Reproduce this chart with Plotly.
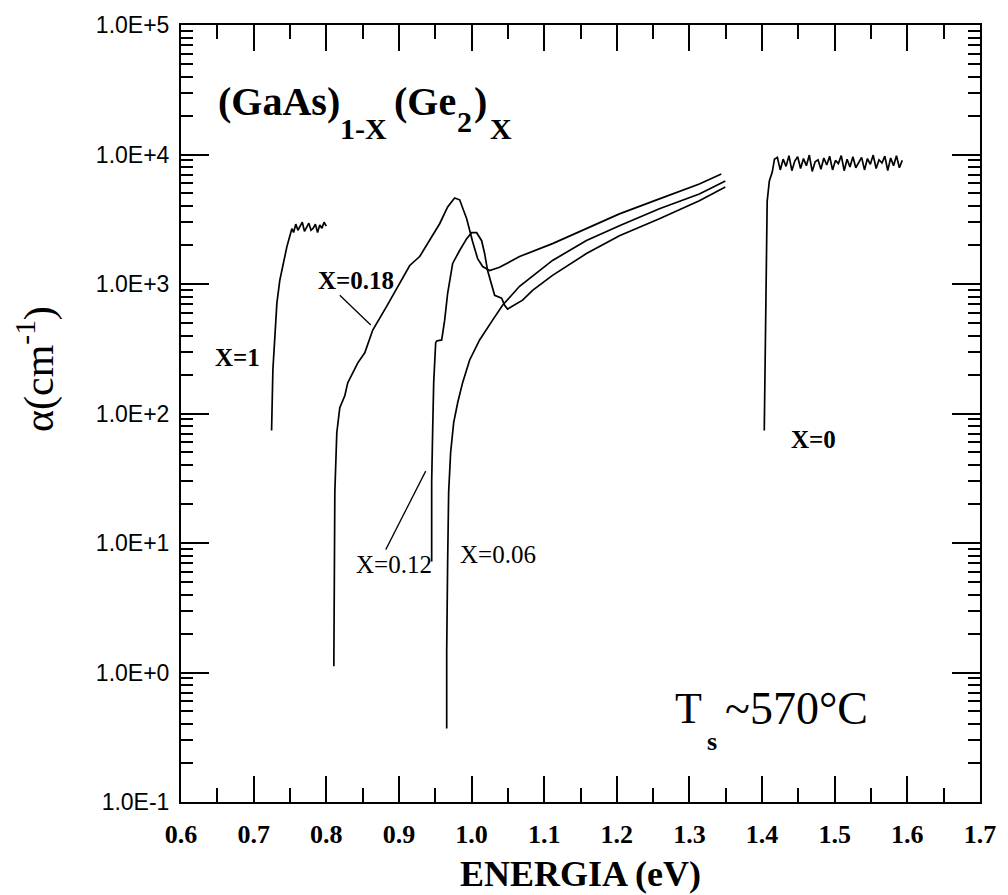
import plotly.graph_objects as go

# ---------------- data ----------------
# X = 1
e_x1 = [0.7247, 0.7265, 0.7320, 0.7360, 0.7458, 0.7526, 0.7550, 0.7580, 0.7610, 0.7640,
        0.7670, 0.7700, 0.7730, 0.7760, 0.7790, 0.7820, 0.7850, 0.7880, 0.7910, 0.7940,
        0.7970, 0.8000]
a_x1 = [74, 218, 711, 1067, 1945, 2675, 2500, 2900, 2600, 2800,
        3000, 2550, 2750, 2950, 2600, 2700, 2900, 2500, 2850, 2700,
        3000, 2800]

# X = 0.18
e_x018 = [0.8104, 0.8111, 0.8118, 0.8145, 0.8186, 0.8255, 0.8296, 0.8365, 0.8434, 0.8530,
          0.8640, 0.8833, 0.9011, 0.9149, 0.9286, 0.9424, 0.9561, 0.9671, 0.9767, 0.9836,
          0.9933, 1.0015, 1.0084, 1.0153, 1.0249, 1.0386, 1.0661, 1.1115, 1.1582, 1.2036,
          1.2586, 1.3136, 1.3439]
a_x018 = [1.12, 7.2, 24.8, 71, 111, 137, 173, 206, 246, 294,
          441, 674, 1012, 1390, 1630, 2160, 2920, 3940, 4620, 4470,
          3190, 2120, 1570, 1365, 1270, 1345, 1630, 2050, 2675, 3480,
          4540, 5920, 7060]

# X = 0.12
e_x012 = [0.9451, 0.9451, 0.9465, 0.9479, 0.9506, 0.9520, 0.9589, 0.9630, 0.9671, 0.9740,
          0.9836, 0.9933, 1.0001, 1.0070, 1.0139, 1.0180, 1.0221, 1.0276, 1.0318, 1.0414,
          1.0455, 1.0496, 1.0565, 1.0703, 1.0840, 1.0936, 1.1115, 1.1582, 1.2036, 1.2586,
          1.3136, 1.3494]
a_x012 = [7.2, 29.5, 75, 173, 351, 363, 370, 526, 848, 1442,
          1813, 2240, 2490, 2490, 2160, 1720, 1270, 960, 818, 776,
          686, 640, 674, 750, 894, 977, 1165, 1718, 2360, 3190,
          4390, 5610]

# X = 0.06
e_x006 = [0.9658, 0.9658, 0.9671, 0.9685, 0.9712, 0.9754, 0.9809, 0.9877, 0.9974, 1.0111,
          1.0290, 1.0427, 1.0661, 1.1115, 1.1582, 1.2036, 1.2586, 1.3136, 1.3494]
a_x006 = [0.37, 1.47, 7.2, 24.8, 50, 85, 121, 173, 259, 370,
          526, 686, 960, 1520, 2165, 2820, 3810, 4960, 6240]

# X = 0
e_x0 = [1.403, 1.4045, 1.406, 1.407, 1.410, 1.414, 1.417,
        1.421, 1.425, 1.429, 1.433, 1.437, 1.441, 1.445, 1.449, 1.453, 1.457,
        1.461, 1.465, 1.469, 1.473, 1.477, 1.481, 1.485, 1.489, 1.493, 1.497,
        1.501, 1.505, 1.509, 1.513, 1.517, 1.521, 1.525, 1.529, 1.533, 1.537,
        1.541, 1.545, 1.549, 1.553, 1.557, 1.561, 1.565, 1.569, 1.573, 1.577,
        1.581, 1.585, 1.589, 1.593]
a_x0 = [74, 418, 1945, 4370, 6240, 7310, 9200,
        9500, 7600, 9200, 8100, 9800, 7500, 8900, 9600, 7800, 9300,
        8200, 9900, 7400, 8800, 9100, 7700, 9400, 8300, 9700, 7600,
        9000, 8500, 9800, 7500, 9200, 8000, 9600, 7900, 8700, 9500,
        7600, 9300, 8400, 9900, 7800, 9100, 8600, 9700, 7500, 9400,
        8200, 9800, 7900, 9000]

series = [(e_x1, a_x1), (e_x018, a_x018), (e_x012, a_x012), (e_x006, a_x006), (e_x0, a_x0)]

x_ticks = [0.6, 0.7, 0.8, 0.9, 1.0, 1.1, 1.2, 1.3, 1.4, 1.5, 1.6, 1.7]
x_ticklabels = ["0.6", "0.7", "0.8", "0.9", "1.0", "1.1", "1.2", "1.3", "1.4", "1.5", "1.6", "1.7"]
y_ticks = [0.1, 1, 10, 100, 1000, 10000, 100000]
y_ticklabels = ["1.0E-1", "1.0E+0", "1.0E+1", "1.0E+2", "1.0E+3", "1.0E+4", "1.0E+5"]
y_minor = [m * d for d in [0.1, 1, 10, 100, 1000, 10000] for m in range(2, 10)]

# ---------------- figure ----------------
W, H = 1008, 895
L, R, T, B = 181, 27, 20, 93
PW, PH = W - L - R, H - T - B


def px(xp):
    return (xp - L) / PW


def py(yp):
    return (H - B - yp) / PH


SERIF = "Liberation Serif, Times New Roman, serif"
SANS = "Liberation Sans, Arial, sans-serif"

fig = go.Figure()
for ex, ay in series:
    fig.add_trace(go.Scatter(x=ex, y=ay, mode="lines",
                             line=dict(color="black", width=1.7),
                             showlegend=False, hoverinfo="skip"))

fig.update_layout(
    width=W, height=H,
    margin=dict(l=L, r=R, t=T, b=B),
    paper_bgcolor="white", plot_bgcolor="white",
    showlegend=False,
)
fig.update_xaxes(
    range=[0.6, 1.7], showgrid=False, zeroline=False,
    showline=True, linecolor="black", linewidth=2, mirror="ticks",
    ticks="inside", ticklen=26, tickwidth=2, tickcolor="black",
    tickmode="array", tickvals=x_ticks,
    ticktext=["<b>%s</b>" % t for t in x_ticklabels],
    tickfont=dict(family=SERIF, size=26, color="black"),
    ticklabelstandoff=8,
    minor=dict(ticks="inside", ticklen=14, tickwidth=2, tickcolor="black", dtick=0.05, tick0=0.6, showgrid=False),
)
fig.update_yaxes(
    type="log", range=[-1, 5], showgrid=False, zeroline=False,
    showline=True, linecolor="black", linewidth=2, mirror="ticks",
    ticks="inside", ticklen=28, tickwidth=2, tickcolor="black",
    tickmode="array", tickvals=y_ticks, ticktext=y_ticklabels,
    tickfont=dict(family=SANS, size=23, color="black"),
    ticklabelstandoff=5,
    minor=dict(ticks="inside", ticklen=12, tickwidth=2, tickcolor="black",
               tickmode="array", tickvals=y_minor, showgrid=False),
)

ann = []


def add_text(text, xp, yp, size, xanchor="left", yanchor="middle", angle=0):
    ann.append(dict(text=text, x=px(xp), y=py(yp), xref="paper", yref="paper",
                    xanchor=xanchor, yanchor=yanchor, showarrow=False, textangle=angle,
                    font=dict(family=SERIF, size=size, color="black")))


# axis titles
add_text("<b>ENERGIA (eV)</b>", 581, 874, 36, xanchor="center")
add_text("α(cm<sup>-1</sup>)", 36, 366, 42, xanchor="center", angle=-90)

# compound label built from pieces (large subscripts like the original)
add_text("<b>(GaAs)</b>", 216, 97, 40)
add_text("<b>1-X</b>", 338, 124, 30)
add_text("<b>(Ge</b>", 392, 97, 40)
add_text("<b>2</b>", 455, 117, 30)
add_text("<b>)</b>", 472, 97, 40)
add_text("<b>X</b>", 488, 124, 30)

# temperature
add_text("T", 674, 708, 44)
add_text("<b>s</b>", 706, 741, 26)
add_text("~570°C", 724, 708, 46)

# curve labels
add_text("<b>X=1</b>", 238, 355, 25, xanchor="center")
add_text("<b>X=0.18</b>", 356, 277, 25, xanchor="center")
add_text("X=0.12", 394, 563, 25, xanchor="center")
add_text("X=0.06", 498, 553, 25, xanchor="center")
add_text("<b>X=0</b>", 814, 437, 25, xanchor="center")

fig.update_layout(annotations=ann)

# leader lines
for (x0, y0, x1, y1) in [(340, 292, 371, 322), (386, 548, 426, 469)]:
    fig.add_shape(type="line", xref="paper", yref="paper",
                  x0=px(x0), y0=py(y0), x1=px(x1), y1=py(y1),
                  line=dict(color="black", width=1.3))

fig.write_html("out.html")
